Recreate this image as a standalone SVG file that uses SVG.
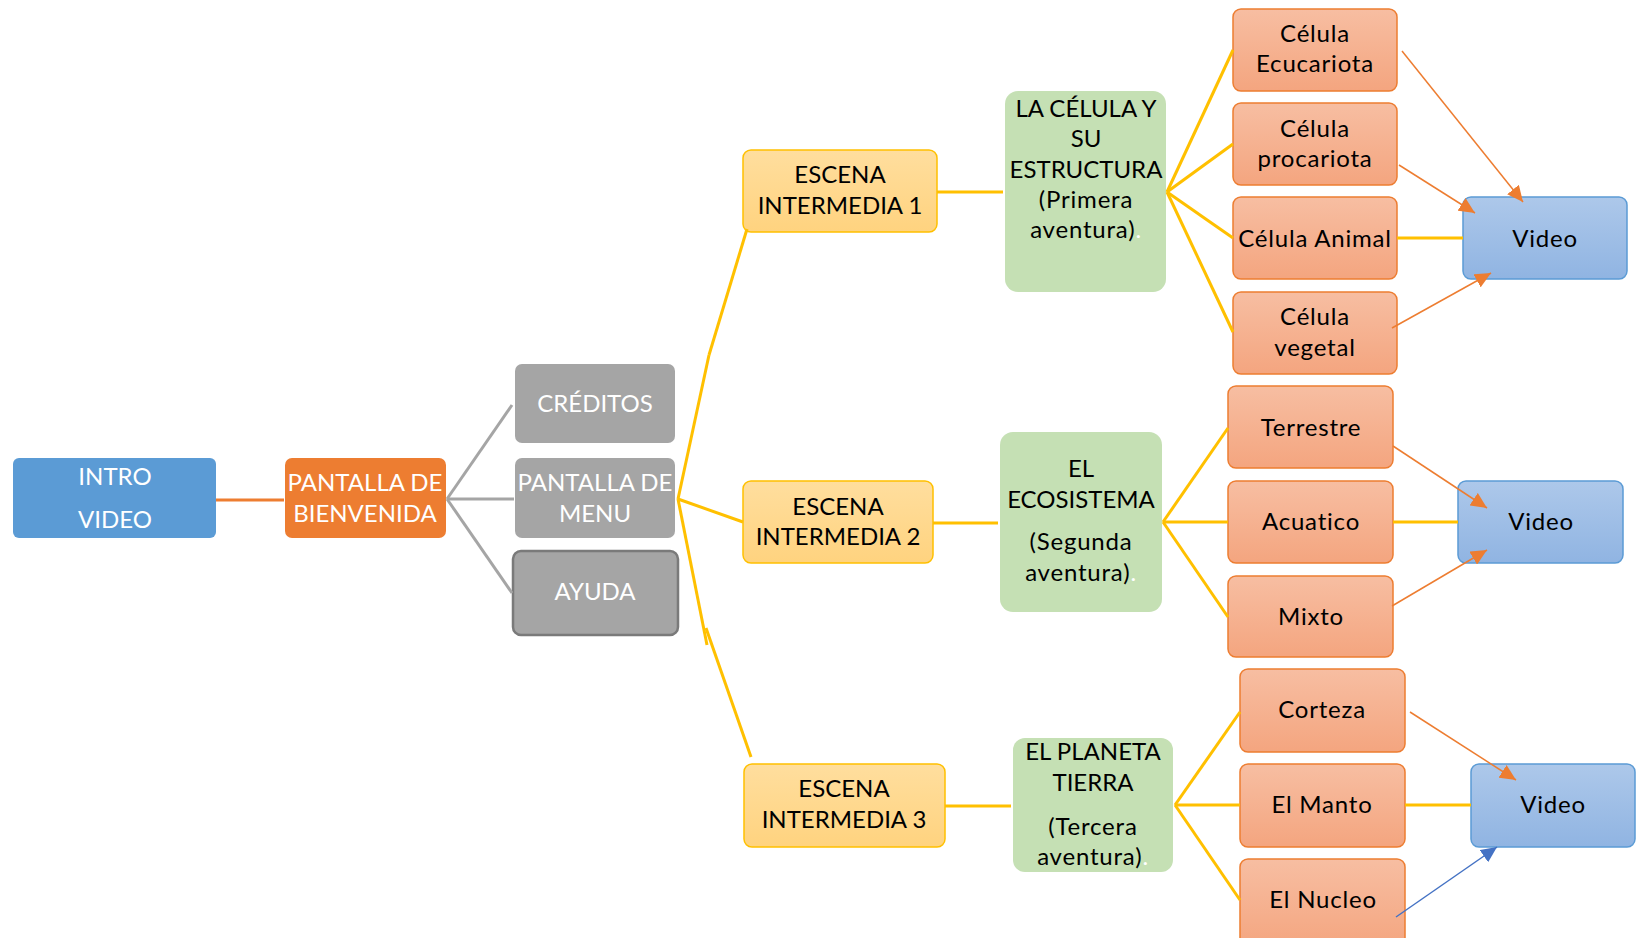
<svg xmlns="http://www.w3.org/2000/svg" width="1647" height="938" viewBox="0 0 1647 938">
  <defs>
    <linearGradient id="gGold" x1="0" y1="0" x2="0" y2="1">
      <stop offset="0" stop-color="#FFDE9E"/>
      <stop offset="1" stop-color="#FFD37F"/>
    </linearGradient>
    <linearGradient id="gSalmon" x1="0" y1="0" x2="0" y2="1">
      <stop offset="0" stop-color="#F7BEA2"/>
      <stop offset="1" stop-color="#F4A57F"/>
    </linearGradient>
    <linearGradient id="gBlue" x1="0" y1="0" x2="0" y2="1">
      <stop offset="0" stop-color="#ADC8EA"/>
      <stop offset="1" stop-color="#90B4E2"/>
    </linearGradient>
    <marker id="arrOrange" markerUnits="userSpaceOnUse" markerWidth="17" markerHeight="15" refX="16" refY="7.5" orient="auto">
      <path d="M0,0 L16,7.5 L0,15 z" fill="#ED7D31"/>
    </marker>
    <marker id="arrBlue" markerUnits="userSpaceOnUse" markerWidth="17" markerHeight="15" refX="16" refY="7.5" orient="auto">
      <path d="M0,0 L16,7.5 L0,15 z" fill="#4472C4"/>
    </marker>
  </defs>
  <style>
    text { font-family: Lato, "Open Sans", "Liberation Sans", sans-serif; font-size: 24px; text-anchor: middle; fill: #000; }
    .light text { fill: #fff; }
    .lc { letter-spacing: 0.8px; }
    .intro { fill: #5B9BD5; }
    .welcome { fill: #ED7D31; }
    .grey { fill: #A5A5A5; }
    .grey-b { fill: #A5A5A5; stroke: #7A7A7A; stroke-width: 2.5; }
    .scene { fill: url(#gGold); stroke: #FFC000; stroke-width: 1.5; }
    .topic { fill: #C5E0B4; }
    .item { fill: url(#gSalmon); stroke: #ED7D31; stroke-width: 1.5; }
    .video { fill: url(#gBlue); stroke: #5B9BD5; stroke-width: 1.5; }
    .yl { stroke: #FFC000; stroke-width: 3; fill: none; }
    .gl { stroke: #A5A5A5; stroke-width: 3; fill: none; }
    .ol { stroke: #ED7D31; stroke-width: 3; fill: none; }
    .oa { stroke: #ED7D31; stroke-width: 1.5; fill: none; marker-end: url(#arrOrange); }
    .ba { stroke: #4472C4; stroke-width: 1.5; fill: none; marker-end: url(#arrBlue); }
    .dot { fill: #fff; }
  </style>

  <rect width="1647" height="938" fill="#fff"/>

  <!-- start -->
  <g id="intro-video" class="light">
    <rect class="intro" x="13" y="458" width="203" height="80" rx="6"/>
    <text x="115" y="485">INTRO</text>
    <text x="115" y="528">VIDEO</text>
  </g>
  <g id="pantalla-bienvenida" class="light">
    <rect class="welcome" x="285" y="458" width="161" height="80" rx="7"/>
    <text x="365" y="491">PANTALLA DE</text>
    <text x="365" y="522">BIENVENIDA</text>
  </g>

  <!-- menu screens -->
  <g id="creditos" class="light">
    <rect class="grey" x="515" y="364" width="160" height="79" rx="7"/>
    <text x="595" y="412">CRÉDITOS</text>
  </g>
  <g id="pantalla-menu" class="light">
    <rect class="grey" x="515" y="458" width="160" height="80" rx="7"/>
    <text x="595" y="491">PANTALLA DE</text>
    <text x="595" y="522">MENU</text>
  </g>
  <g id="ayuda" class="light">
    <rect class="grey-b" x="513" y="551" width="165" height="84" rx="8"/>
    <text x="595" y="600">AYUDA</text>
  </g>

  <!-- scenes -->
  <g id="escena-1">
    <rect class="scene" x="743" y="150" width="194" height="82" rx="8"/>
    <text x="840" y="183">ESCENA</text>
    <text x="840" y="214">INTERMEDIA 1</text>
  </g>
  <g id="escena-2">
    <rect class="scene" x="743" y="481" width="190" height="82" rx="8"/>
    <text x="838" y="515">ESCENA</text>
    <text x="838" y="545">INTERMEDIA 2</text>
  </g>
  <g id="escena-3">
    <rect class="scene" x="744" y="764" width="201" height="83" rx="8"/>
    <text x="844" y="797">ESCENA</text>
    <text x="844" y="828">INTERMEDIA 3</text>
  </g>

  <!-- adventures -->
  <g id="aventura-1">
    <rect class="topic" x="1005" y="91" width="161" height="201" rx="13"/>
    <text x="1086" y="117">LA CÉLULA Y</text>
    <text x="1086" y="147">SU</text>
    <text x="1086" y="178">ESTRUCTURA</text>
    <text class="lc" x="1086" y="208">(Primera</text>
    <text class="lc" x="1086" y="238">aventura)<tspan class="dot">.</tspan></text>
  </g>
  <g id="aventura-2">
    <rect class="topic" x="1000" y="432" width="162" height="180" rx="13"/>
    <text x="1081" y="477">EL</text>
    <text x="1081" y="508">ECOSISTEMA</text>
    <text class="lc" x="1081" y="550">(Segunda</text>
    <text class="lc" x="1081" y="581">aventura)<tspan class="dot">.</tspan></text>
  </g>
  <g id="aventura-3">
    <rect class="topic" x="1013" y="738" width="160" height="134" rx="12"/>
    <text x="1093" y="760">EL PLANETA</text>
    <text x="1093" y="791">TIERRA</text>
    <text class="lc" x="1093" y="835">(Tercera</text>
    <text class="lc" x="1093" y="865">aventura)<tspan class="dot">.</tspan></text>
  </g>

  <!-- cell types -->
  <g id="celula-ecucariota">
    <rect class="item" x="1233" y="9" width="164" height="82" rx="8"/>
    <text class="lc" x="1315" y="42">Célula</text>
    <text class="lc" x="1315" y="72">Ecucariota</text>
  </g>
  <g id="celula-procariota">
    <rect class="item" x="1233" y="103" width="164" height="82" rx="8"/>
    <text class="lc" x="1315" y="137">Célula</text>
    <text class="lc" x="1315" y="167">procariota</text>
  </g>
  <g id="celula-animal">
    <rect class="item" x="1233" y="197" width="164" height="82" rx="8"/>
    <text class="lc" x="1315" y="247">Célula Animal</text>
  </g>
  <g id="celula-vegetal">
    <rect class="item" x="1233" y="292" width="164" height="82" rx="8"/>
    <text class="lc" x="1315" y="325">Célula</text>
    <text class="lc" x="1315" y="356">vegetal</text>
  </g>
  <g id="video-1">
    <rect class="video" x="1463" y="197" width="164" height="82" rx="8"/>
    <text class="lc" x="1545" y="247">Video</text>
  </g>

  <!-- ecosystem types -->
  <g id="terrestre">
    <rect class="item" x="1228" y="386" width="165" height="82" rx="8"/>
    <text class="lc" x="1311" y="436">Terrestre</text>
  </g>
  <g id="acuatico">
    <rect class="item" x="1228" y="481" width="165" height="82" rx="8"/>
    <text class="lc" x="1311" y="530">Acuatico</text>
  </g>
  <g id="mixto">
    <rect class="item" x="1228" y="576" width="165" height="81" rx="8"/>
    <text class="lc" x="1311" y="625">Mixto</text>
  </g>
  <g id="video-2">
    <rect class="video" x="1458" y="481" width="165" height="82" rx="8"/>
    <text class="lc" x="1541" y="530">Video</text>
  </g>

  <!-- earth layers -->
  <g id="corteza">
    <rect class="item" x="1240" y="669" width="165" height="83" rx="8"/>
    <text class="lc" x="1322" y="718">Corteza</text>
  </g>
  <g id="el-manto">
    <rect class="item" x="1240" y="764" width="165" height="83" rx="8"/>
    <text class="lc" x="1322" y="813">El Manto</text>
  </g>
  <g id="el-nucleo">
    <rect class="item" x="1240" y="859" width="165" height="90" rx="8"/>
    <text class="lc" x="1323" y="908">El Nucleo</text>
  </g>
  <g id="video-3">
    <rect class="video" x="1471" y="764" width="164" height="83" rx="8"/>
    <text class="lc" x="1553" y="813">Video</text>
  </g>

  <!-- connectors, drawn last so arrowheads sit on top of the boxes -->
  <g id="connectors">
    <line class="ol" x1="216" y1="500" x2="284" y2="500"/>
    <line class="gl" x1="447" y1="499" x2="512" y2="405"/>
    <line class="gl" x1="447" y1="499" x2="514" y2="499"/>
    <line class="gl" x1="447" y1="499" x2="512" y2="593"/>

    <!-- menu to scenes -->
    <line class="yl" x1="747" y1="229" x2="709" y2="355" stroke-width="4"/>
    <line class="yl" x1="709" y1="355" x2="678" y2="499"/>
    <line class="yl" x1="678" y1="499" x2="743" y2="522"/>
    <line class="yl" x1="678" y1="499" x2="707" y2="645"/>
    <line class="yl" x1="706" y1="628" x2="751" y2="757" stroke-width="4"/>

    <!-- scenes to topics -->
    <line class="yl" x1="937" y1="192" x2="1003" y2="192"/>
    <line class="yl" x1="933" y1="523" x2="998" y2="523"/>
    <line class="yl" x1="945" y1="806" x2="1011" y2="806"/>

    <!-- topic 1 fan -->
    <line class="yl" x1="1167" y1="192" x2="1233" y2="50"/>
    <line class="yl" x1="1167" y1="192" x2="1233" y2="144"/>
    <line class="yl" x1="1167" y1="192" x2="1233" y2="238"/>
    <line class="yl" x1="1167" y1="192" x2="1233" y2="332"/>
    <line class="yl" x1="1397" y1="238" x2="1463" y2="238"/>

    <!-- topic 2 fan -->
    <line class="yl" x1="1163" y1="522" x2="1228" y2="428"/>
    <line class="yl" x1="1163" y1="522" x2="1228" y2="522"/>
    <line class="yl" x1="1163" y1="522" x2="1228" y2="617"/>
    <line class="yl" x1="1393" y1="522" x2="1458" y2="522"/>

    <!-- topic 3 fan -->
    <line class="yl" x1="1175" y1="805" x2="1240" y2="712"/>
    <line class="yl" x1="1175" y1="805" x2="1240" y2="805"/>
    <line class="yl" x1="1175" y1="805" x2="1240" y2="900"/>
    <line class="yl" x1="1405" y1="805" x2="1471" y2="805"/>

    <!-- arrows to videos -->
    <line class="oa" x1="1402" y1="51" x2="1523" y2="202"/>
    <line class="oa" x1="1399" y1="165" x2="1475" y2="213"/>
    <line class="oa" x1="1392" y1="328" x2="1491" y2="273"/>
    <line class="oa" x1="1393" y1="446" x2="1487" y2="508"/>
    <line class="oa" x1="1392" y1="606" x2="1487" y2="550"/>
    <line class="oa" x1="1410" y1="712" x2="1516" y2="780"/>
    <line class="ba" x1="1396" y1="917" x2="1497" y2="847"/>
  </g>
</svg>
